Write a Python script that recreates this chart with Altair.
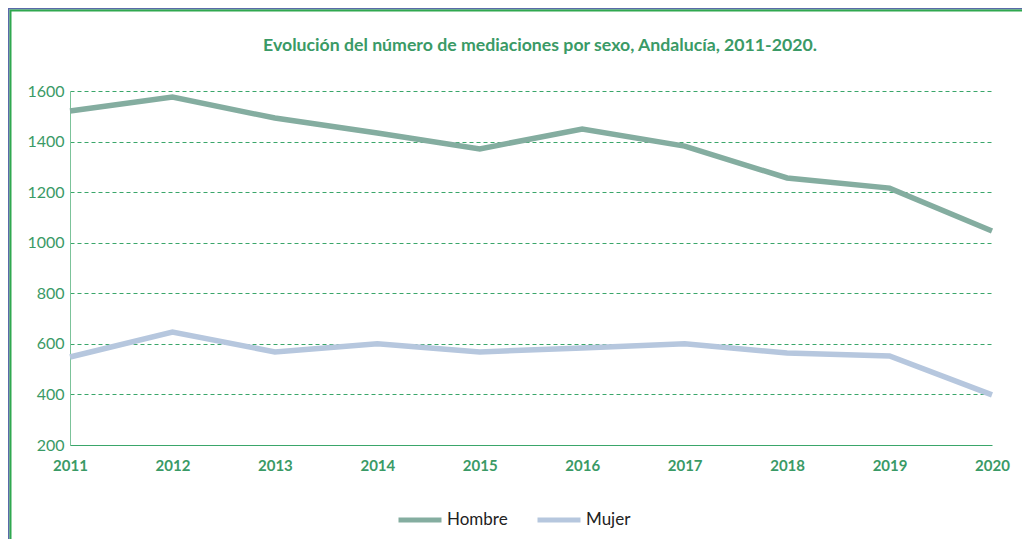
import altair as alt
import pandas as pd

years = [2011, 2012, 2013, 2014, 2015, 2016, 2017, 2018, 2019, 2020]
hombre = [1521, 1576, 1493, 1434, 1371, 1450, 1382, 1256, 1216, 1046]
mujer = [548, 647, 568, 600, 568, 584, 600, 564, 552, 398]
series = ["Hombre", "Mujer"]
colors = ["#84ada0", "#b6c7de"]
y_ticks = [200, 400, 600, 800, 1000, 1200, 1400, 1600]
title_text = ["Evolución del número de mediaciones por sexo, Andalucía, 2011-2020."]

rows = []
for s, vals in zip(series, [hombre, mujer]):
    for yr, v in zip(years, vals):
        rows.append({"year": yr, "value": v, "sexo": s})
df = pd.DataFrame(rows)
tdf = pd.DataFrame({"t": title_text})

GREEN = "#3a9a66"

lines = alt.Chart(df).mark_line(strokeWidth=5.5, strokeCap="butt", clip=False).encode(
    x=alt.X("year:Q", scale=alt.Scale(domain=[2011, 2020], nice=False, zero=False),
            axis=alt.Axis(values=years, format="d", title=None, grid=False, ticks=False,
                          domain=True, domainColor="#3aa66a", domainWidth=1,
                          labelColor=GREEN, labelFontWeight="bold", labelFontSize=15,
                          labelFont="Lato", labelPadding=13, labelFlush=False)),
    y=alt.Y("value:Q", scale=alt.Scale(domain=[200, 1600], nice=False, zero=False),
            axis=alt.Axis(values=y_ticks, format="d", title=None, ticks=False, domain=True,
                          domainColor="#7cc39a", domainWidth=1,
                          grid=True, gridColor="#3aa66a", gridDash=[4, 3], gridWidth=1,
                          labelColor=GREEN, labelFontSize=16, labelFont="Lato",
                          labelPadding=6)),
    color=alt.Color("sexo:N", scale=alt.Scale(domain=series, range=colors),
                    legend=alt.Legend(title=None, orient="none", direction="horizontal",
                                      legendX=326, legendY=405, symbolType="stroke",
                                      symbolSize=1849, symbolStrokeWidth=5,
                                      labelFont="Lato", labelFontSize=17, labelColor="#222222",
                                      labelOffset=3, columnPadding=19, padding=0)),
)

title = alt.Chart(tdf).mark_text(font="Lato", fontSize=17.7, fontWeight="bold", color=GREEN,
                                 align="center", baseline="middle").encode(
    text="t:N", x=alt.value(470), y=alt.value(-45))

frame_blue_top = alt.Chart(tdf).mark_rule(color="#5a6aa8", strokeWidth=2).encode(
    x=alt.value(-62), x2=alt.value(1000), y=alt.value(-82.5))
frame_blue_left = alt.Chart(tdf).mark_rule(color="#5a6aa8", strokeWidth=2).encode(
    x=alt.value(-61.5), y=alt.value(-83), y2=alt.value(500))
frame_green_top = alt.Chart(tdf).mark_rule(color="#2fa84f", strokeWidth=2).encode(
    x=alt.value(-60), x2=alt.value(1000), y=alt.value(-80.5))
frame_green_left = alt.Chart(tdf).mark_rule(color="#2fa84f", strokeWidth=2).encode(
    x=alt.value(-59.5), y=alt.value(-81), y2=alt.value(500))

chart = alt.layer(frame_blue_top, frame_blue_left, frame_green_top, frame_green_left,
                  title, lines).properties(
    width=922, height=354,
    background="white",
    padding={"left": 62, "top": 83, "right": 30, "bottom": 94},
    autosize=alt.AutoSizeParams(type="none"),
).configure_view(stroke="transparent", strokeWidth=0)

chart.save("out.html", embed_options={"renderer": "svg", "actions": False})
